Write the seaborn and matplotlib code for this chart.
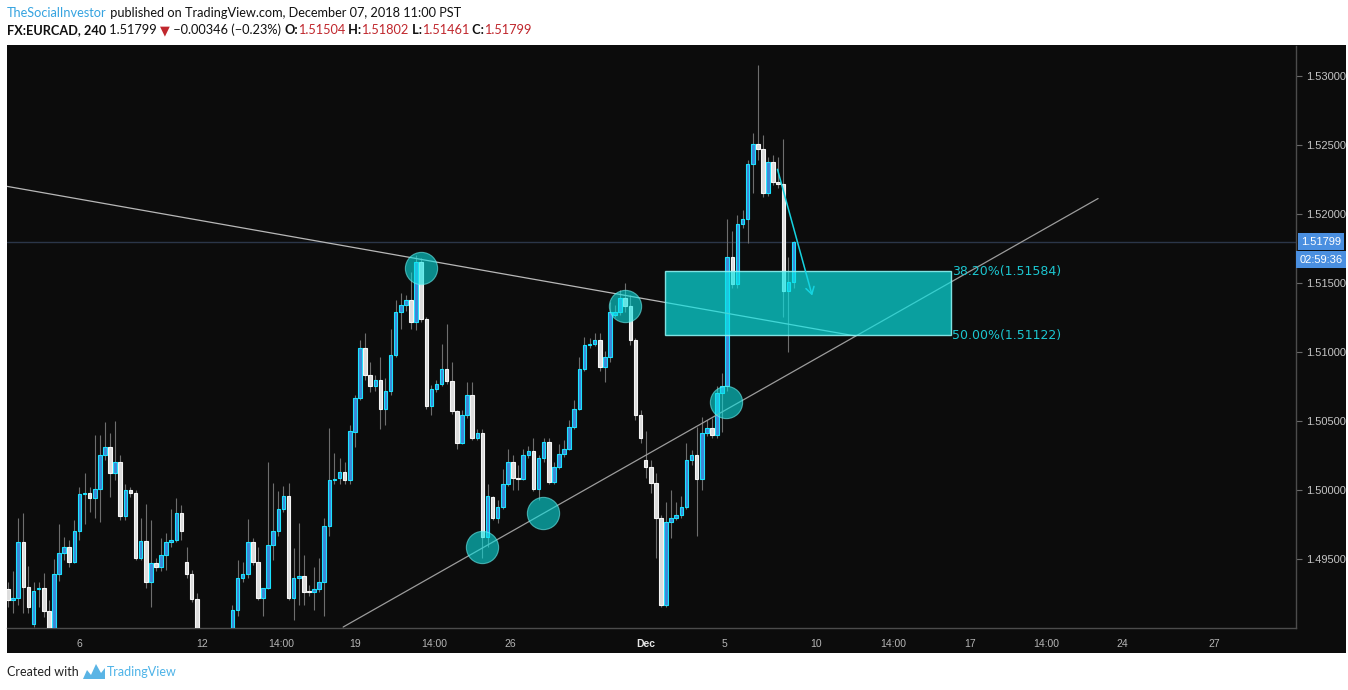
import matplotlib
matplotlib.use("Agg")
import matplotlib.pyplot as plt
from matplotlib.patches import Rectangle, Polygon
import numpy as np
import pandas as pd
import seaborn as sns

# FX:EURCAD 4h candles
opens = [1.4928, 1.4920, 1.4922, 1.4962, 1.4930, 1.4903, 1.4928, 1.4929, 1.4912, 1.4897,
         1.4939, 1.4954, 1.4959, 1.4948, 1.4970, 1.4997, 1.4998, 1.4994, 1.5001, 1.5025,
         1.5031, 1.5012, 1.5020, 1.4981, 1.5000, 1.4998, 1.4951, 1.4963, 1.4933, 1.4947,
         1.4944, 1.4953, 1.4962, 1.4964, 1.4983, 1.4948, 1.4939, 1.4921, 1.4897, 1.4888,
         1.4883, 1.4889, 1.4885, 1.4892, 1.4894, 1.4913, 1.4936, 1.4939, 1.4962, 1.4948,
         1.4922, 1.4929, 1.4960, 1.4970, 1.4986, 1.4996, 1.4922, 1.4936, 1.4938, 1.4927,
         1.4926, 1.4928, 1.4933, 1.4974, 1.5007, 1.5009, 1.5013, 1.5007, 1.5042, 1.5067,
         1.5103, 1.5083, 1.5075, 1.5080, 1.5059, 1.5072, 1.5098, 1.5129, 1.5134, 1.5138,
         1.5122, 1.5165, 1.5124, 1.5061, 1.5073, 1.5077, 1.5088, 1.5079, 1.5057, 1.5034,
         1.5054, 1.5069, 1.5038, 1.5041, 1.4966, 1.4995, 1.4980, 1.4988, 1.5004, 1.5020,
         1.5009, 1.5008, 1.5025, 1.5028, 1.5001, 1.5023, 1.5035, 1.5006, 1.5017, 1.5026,
         1.5030, 1.5046, 1.5059, 1.5088, 1.5105, 1.5106, 1.5109, 1.5089, 1.5096, 1.5127,
         1.5129, 1.5139, 1.5133, 1.5109, 1.5054, 1.5022, 1.5017, 1.5005, 1.4980, 1.4917,
         1.4977, 1.4980, 1.4982, 1.4988, 1.5022, 1.5025, 1.5008, 1.5041, 1.5045, 1.5040,
         1.5070, 1.5075, 1.5169, 1.5149, 1.5193, 1.5196, 1.5236, 1.5251, 1.5247, 1.5215,
         1.5238, 1.5223, 1.5222, 1.5144, 1.51504]
highs = [1.4933, 1.4941, 1.4980, 1.4983, 1.4945, 1.4933, 1.4933, 1.4940, 1.4920, 1.4950,
         1.4975, 1.4966, 1.4964, 1.4978, 1.5002, 1.5012, 1.5002, 1.5040, 1.5040, 1.5049,
         1.5041, 1.5050, 1.5025, 1.5004, 1.5002, 1.5000, 1.4980, 1.4990, 1.4978, 1.4951,
         1.4965, 1.4969, 1.4986, 1.4994, 1.4989, 1.4959, 1.4942, 1.4925, 1.4899, 1.4893,
         1.4892, 1.4896, 1.4894, 1.4898, 1.4917, 1.4949, 1.4948, 1.4979, 1.4965, 1.4959,
         1.4929, 1.5020, 1.5005, 1.4999, 1.5003, 1.5005, 1.4958, 1.4976, 1.4953, 1.4931,
         1.4944, 1.4951, 1.4980, 1.5045, 1.5027, 1.5023, 1.5020, 1.5047, 1.5069, 1.5109,
         1.5114, 1.5093, 1.5083, 1.5096, 1.5081, 1.5117, 1.5138, 1.5143, 1.5141, 1.5158,
         1.5170, 1.5168, 1.5125, 1.5076, 1.5080, 1.5106, 1.5120, 1.5093, 1.5058, 1.5058,
         1.5078, 1.5078, 1.5044, 1.5044, 1.5004, 1.4996, 1.4993, 1.5015, 1.5030, 1.5025,
         1.5018, 1.5030, 1.5032, 1.5038, 1.5025, 1.5038, 1.5038, 1.5020, 1.5033, 1.5036,
         1.5051, 1.5065, 1.5096, 1.5111, 1.5110, 1.5114, 1.5114, 1.5101, 1.5136, 1.5134,
         1.5145, 1.5150, 1.5141, 1.5110, 1.5058, 1.5043, 1.5022, 1.5012, 1.4982, 1.4991,
         1.5000, 1.4991, 1.4996, 1.5034, 1.5029, 1.5046, 1.5053, 1.5051, 1.5052, 1.5075,
         1.5085, 1.5196, 1.5188, 1.5199, 1.5203, 1.5239, 1.5259, 1.5308, 1.5257, 1.5241,
         1.5243, 1.5241, 1.5254, 1.5169, 1.51802]
lows = [1.4915, 1.4911, 1.4917, 1.4911, 1.4911, 1.4901, 1.4915, 1.4908, 1.4894, 1.4896,
        1.4934, 1.4949, 1.4944, 1.4947, 1.4964, 1.4975, 1.4984, 1.4980, 1.4977, 1.5022,
        1.4995, 1.5007, 1.4978, 1.4978, 1.4995, 1.4949, 1.4949, 1.4929, 1.4915, 1.4941,
        1.4941, 1.4942, 1.4959, 1.4962, 1.4964, 1.4936, 1.4919, 1.4894, 1.4884, 1.4879,
        1.4877, 1.4882, 1.4881, 1.4887, 1.4889, 1.4909, 1.4933, 1.4936, 1.4946, 1.4920,
        1.4909, 1.4928, 1.4949, 1.4967, 1.4984, 1.4920, 1.4906, 1.4917, 1.4917, 1.4923,
        1.4913, 1.4926, 1.4909, 1.4967, 1.5004, 1.5004, 1.5004, 1.5004, 1.5031, 1.5065,
        1.5080, 1.5071, 1.5072, 1.5044, 1.5047, 1.5069, 1.5096, 1.5117, 1.5130, 1.5117,
        1.5116, 1.5122, 1.5059, 1.5054, 1.5071, 1.5075, 1.5077, 1.5055, 1.5030, 1.5033,
        1.5052, 1.5036, 1.5036, 1.4951, 1.4959, 1.4978, 1.4976, 1.4986, 1.5003, 1.5000,
        1.5000, 1.5007, 1.5023, 1.4999, 1.4993, 1.5020, 1.5004, 1.5004, 1.5015, 1.5024,
        1.5029, 1.5044, 1.5058, 1.5086, 1.5103, 1.5104, 1.5086, 1.5078, 1.5093, 1.5125,
        1.5127, 1.5129, 1.5105, 1.5051, 1.5034, 1.5009, 1.4998, 1.4951, 1.4915, 1.4915,
        1.4965, 1.4978, 1.4980, 1.4986, 1.5018, 1.4967, 1.5000, 1.5039, 1.5038, 1.5038,
        1.5042, 1.5072, 1.5146, 1.5146, 1.5190, 1.5179, 1.5215, 1.5239, 1.5212, 1.5213,
        1.5221, 1.5219, 1.5125, 1.5100, 1.51461]
closes = [1.4920, 1.4922, 1.4962, 1.4930, 1.4915, 1.4927, 1.4929, 1.4912, 1.4897, 1.4939,
          1.4954, 1.4959, 1.4948, 1.4970, 1.4997, 1.4998, 1.4994, 1.5001, 1.5025, 1.5031,
          1.5012, 1.5020, 1.4981, 1.5000, 1.4998, 1.4951, 1.4963, 1.4933, 1.4947, 1.4944,
          1.4953, 1.4962, 1.4964, 1.4983, 1.4970, 1.4939, 1.4921, 1.4897, 1.4888, 1.4883,
          1.4889, 1.4885, 1.4892, 1.4895, 1.4913, 1.4936, 1.4939, 1.4962, 1.4948, 1.4922,
          1.4929, 1.4960, 1.4970, 1.4986, 1.4996, 1.4922, 1.4936, 1.4938, 1.4926, 1.4926,
          1.4928, 1.4933, 1.4974, 1.5007, 1.5008, 1.5013, 1.5007, 1.5043, 1.5067, 1.5103,
          1.5083, 1.5075, 1.5080, 1.5059, 1.5072, 1.5098, 1.5129, 1.5134, 1.5138, 1.5122,
          1.5165, 1.5124, 1.5061, 1.5073, 1.5077, 1.5088, 1.5079, 1.5057, 1.5034, 1.5054,
          1.5069, 1.5038, 1.5041, 1.4966, 1.4996, 1.4980, 1.4988, 1.5004, 1.5020, 1.5009,
          1.5008, 1.5025, 1.5028, 1.5001, 1.5023, 1.5035, 1.5006, 1.5017, 1.5026, 1.5030,
          1.5046, 1.5059, 1.5088, 1.5105, 1.5106, 1.5109, 1.5089, 1.5096, 1.5129, 1.5129,
          1.5139, 1.5133, 1.5109, 1.5054, 1.5038, 1.5017, 1.5005, 1.4980, 1.4917, 1.4977,
          1.4980, 1.4982, 1.4988, 1.5022, 1.5025, 1.5008, 1.5041, 1.5045, 1.5040, 1.5070,
          1.5075, 1.5169, 1.5149, 1.5193, 1.5196, 1.5236, 1.5251, 1.5247, 1.5215, 1.5238,
          1.5223, 1.5222, 1.5144, 1.5151, 1.51799]

# axis labels (x is bar number, 6 bars a day)
price_ticks = [1.495, 1.500, 1.505, 1.510, 1.515, 1.520, 1.525, 1.530]
date_ticks = [14, 38, 53.5, 68, 83.5, 98.5, 125, 140.5, 158.5, 173.5, 188.5, 203.5, 218.5, 236.5]
date_labels = ["6", "12", "14:00", "19", "14:00", "26", "Dec", "5", "10", "14:00", "17", "14:00", "24", "27"]

# drawings on the chart
circle_bars = [80.9, 92.9, 104.8, 120.9, 140.7]
circle_prices = [1.51607, 1.49589, 1.49831, 1.51331, 1.50638]
down_line_bars = [-0.2, 166.1]
down_line_prices = [1.52200, 1.51116]
up_line_bars = [65.7, 213.7]
up_line_prices = [1.49007, 1.52112]
fib_bars = [128.8, 184.9]
fib_levels = [1.51584, 1.51122]
fib_names = ["38.20%", "50.00%"]
arrow_bars = [150.7, 157.8]
arrow_prices = [1.52343, 1.51389]

BG = "#0c0c0c"
W, H = 1348, 690

sns.set_style("dark")
plt.rcParams["font.family"] = ["Lato", "DejaVu Sans"]

fig = plt.figure(figsize=(W / 100, H / 100), dpi=100)
fig.patch.set_facecolor("white")
fig.add_artist(Rectangle((7 / W, 1 - 653 / H), 1339 / W, 608 / H, transform=fig.transFigure,
                         fc=BG, ec="none", zorder=-1))
ax = fig.add_axes([7 / W, 1 - 628 / H, 1289 / W, 582 / H])
ax.set_facecolor(BG)

df = pd.DataFrame({"open": opens, "high": highs, "low": lows, "close": closes})
df["bar"] = np.arange(len(df))
df["up"] = df["close"] >= df["open"]
df["body_lo"] = df[["open", "close"]].min(axis=1)
df["body_h"] = (df["close"] - df["open"]).abs().clip(lower=0.00003)

ax.axhline(closes[-1], color="#2b3649", lw=1, zorder=1)
ax.vlines(df["bar"], df["low"], df["high"], color="#6e6e6e", lw=0.8, zorder=2)
for is_up, fc, ec in [(True, "#3f86d6", "#19e3ff"), (False, "#dcdcdc", "#f5f5f5")]:
    d = df[df["up"] == is_up]
    ax.bar(d["bar"], d["body_h"], bottom=d["body_lo"], width=0.7, color=fc,
           edgecolor=ec, linewidth=0.8, zorder=3)

ax.plot(down_line_bars, down_line_prices, color="#b8b8b8", lw=0.9, zorder=4)
ax.plot(up_line_bars, up_line_prices, color="#9c9c9c", lw=0.9, zorder=4)

sns.scatterplot(x=circle_bars, y=circle_prices, s=540, color="#0ae6e6", alpha=0.58,
                edgecolor="#6ef2f2", linewidth=0.8, ax=ax, zorder=5, legend=False)

ax.add_patch(Rectangle((fib_bars[0], fib_levels[1]), fib_bars[1] - fib_bars[0],
                       fib_levels[0] - fib_levels[1], fc=(0.04, 0.9, 0.9, 0.68),
                       ec=(0.55, 0.95, 0.95, 0.9), lw=1, zorder=6))
for name, lvl in zip(fib_names, fib_levels):
    ax.text(fib_bars[1] + 0.1, lvl, f"{name}({lvl:.5f})", color="#1cc6d0", fontsize=9,
            family="DejaVu Sans", ha="left", va="center", zorder=7)

ax.annotate("", xy=(arrow_bars[1], arrow_prices[1]), xytext=(arrow_bars[0], arrow_prices[0]),
            arrowprops=dict(arrowstyle="->,head_length=0.5,head_width=0.3", color="#16d3e0", lw=1.1),
            zorder=7)

ax.set_xlim(-0.2, 252.5)
ax.set_ylim(1.4900, 1.53217)
for s in ["top", "left"]:
    ax.spines[s].set_visible(False)
for s in ["right", "bottom"]:
    ax.spines[s].set_color("#4c4c4c")
    ax.spines[s].set_linewidth(1)

ax.yaxis.tick_right()
ax.set_yticks(price_ticks)
ax.set_yticklabels([f"{p:.5f}" for p in price_ticks], family="Liberation Sans")
ax.set_xticks(date_ticks)
ax.set_xticklabels(date_labels, family="Liberation Sans")
ax.tick_params(axis="y", colors="#6a6a6a", labelcolor="#c4c4c4", labelsize=8, length=4, pad=3)
ax.tick_params(axis="x", colors="#6a6a6a", labelcolor="#b5b5b5", labelsize=7.5, length=4, pad=4)
dec = ax.get_xticklabels()[date_labels.index("Dec")]
dec.set_fontweight("bold")
dec.set_color("#e6e6e6")
ax.grid(False)

box = dict(boxstyle="square,pad=0.3", fc="#4a8fe0", ec="none")
ax.annotate(f"{closes[-1]:.5f}", xy=(1, closes[-1]), xycoords=ax.get_yaxis_transform(),
            xytext=(3.5, 0), textcoords="offset points", color="white", fontsize=8,
            family="Liberation Sans", va="center", ha="left", bbox=box, annotation_clip=False)
ax.annotate("02:59:36", xy=(1, closes[-1]), xycoords=ax.get_yaxis_transform(),
            xytext=(2.5, -13), textcoords="offset points", color="white", fontsize=8,
            family="Liberation Sans", va="center", ha="left", bbox=box, annotation_clip=False)

# header and footer
renderer = fig.canvas.get_renderer()


def put_runs(y_px, runs, size, x_px=7):
    for txt, color, weight in runs:
        t = fig.text(x_px / W, 1 - y_px / H, txt, color=color, fontsize=size,
                     fontweight=weight, va="center", ha="left")
        x_px += t.get_window_extent(renderer).width


red = "#c0272d"
put_runs(13, [("TheSocialInvestor", "#35a3e0", "normal"),
              (" published on TradingView.com, December 07, 2018 11:00 PST", "#111111", "normal")], 9.2)
put_runs(30, [("FX:EURCAD, 240", "#111111", "bold"), (" 1.51799 ", "#111111", "normal"),
              ("▼", red, "normal"), (" −0.00346 (−0.23%) ", "#111111", "normal"),
              ("O:", "#111111", "bold"), ("1.51504", red, "normal"),
              (" H:", "#111111", "bold"), ("1.51802", red, "normal"),
              (" L:", "#111111", "bold"), ("1.51461", red, "normal"),
              (" C:", "#111111", "bold"), ("1.51799", red, "normal")], 9.2)

fig.text(7 / W, 1 - 672 / H, "Created with", fontsize=9, color="#222222", va="center", ha="left")
logo = [(83, 679), (87, 670), (91, 675), (96, 664), (101, 673), (105, 668), (105, 679)]
fig.add_artist(Polygon([(x / W, 1 - y / H) for x, y in logo], closed=True,
                       transform=fig.transFigure, fc="#5ab4e5", ec="none"))
fig.text(107 / W, 1 - 672 / H, "TradingView", fontsize=9, color="#4db3e8", va="center", ha="left")

fig.savefig("out.png", dpi=100, facecolor=fig.get_facecolor())
